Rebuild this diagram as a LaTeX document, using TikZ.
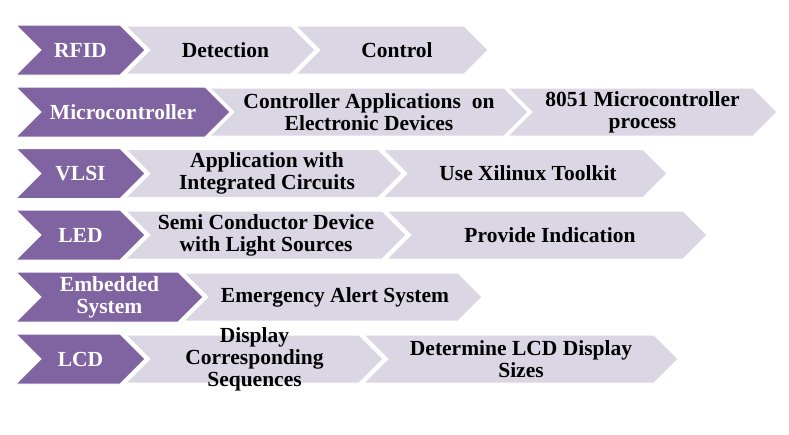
\documentclass[tikz,border=0pt]{standalone}
\usepackage{fontspec}
\setmainfont{Liberation Serif}[BoldFont={Liberation Serif Bold}]
\newfontfamily\tnr{Liberation Serif}[BoldFont={Liberation Serif Bold}]
\definecolor{purp}{RGB}{128,100,162}
\definecolor{lite}{RGB}{219,214,228}
\tikzset{
  purpchev/.style={fill=purp,draw=white,line width=1pt,line join=miter},
  litechev/.style={fill=lite,draw=white,line width=1pt,line join=miter},
  purptxt/.style={text=white,font=\tnr\fontsize{21.5}{22}\selectfont\bfseries,align=center,inner sep=0pt},
  litetxt/.style={text=black,font=\tnr\fontsize{21.5}{22}\selectfont\bfseries,align=center,inner sep=0pt},
}
% #1 name, #2 left x, #3 tip x, #4 mid y, #5 half height, #6 kind (purp/lite), #7 text shift, #8 text
\newcommand\mychev[8]{%
  \path[#6chev] (#2,#4-#5) -- (#3-#5,#4-#5) -- (#3,#4) -- (#3-#5,#4+#5) -- (#2,#4+#5) -- (#2+#5,#4) -- cycle;
  \node[#6txt] (#1) at ({(#2+#3)/2+#7},#4) {#8};
}
\begin{document}
\begin{tikzpicture}[x=1pt,y=-1pt]
\useasboundingbox (0,0) rectangle (789,434);
% Row 1
\mychev{rfid}{16}{145}{50}{25}{purp}{0}{RFID}
\mychev{detect}{126}{315}{50}{24}{lite}{5}{Detection}
\mychev{control}{296}{488}{50}{24}{lite}{5}{Control}
% Row 2
\mychev{micro}{16}{230}{112}{25}{purp}{0}{Microcontroller}
\mychev{ctrlapp}{210}{528}{112}{24}{lite}{0}{Controller Applications\hspace{0.25em} on\\Electronic Devices}
\mychev{proc}{508}{777}{112}{24}{lite}{0}{8051 Microcontroller\\process}
% Row 3
\mychev{vlsi}{16}{145}{173.5}{25}{purp}{0}{VLSI}
\mychev{appic}{126}{402}{173.5}{24}{lite}{3}{Application with\\Integrated Circuits}
\mychev{xil}{383}{667}{173.5}{24}{lite}{3}{Use Xilinux Toolkit}
% Row 4
\mychev{led}{16}{145}{235}{25}{purp}{0}{LED}
\mychev{semi}{126}{406}{235}{24}{lite}{0}{Semi Conductor Device\\with Light Sources}
\mychev{indic}{387}{707}{235}{24}{lite}{3}{Provide Indication}
% Row 5
\mychev{emb}{16}{203}{297}{25}{purp}{0}{Embedded\\System}
\mychev{alert}{184}{482}{297}{24}{lite}{2}{Emergency Alert System}
% Row 6
\mychev{lcd}{16}{145}{359}{25}{purp}{0}{LCD}
\mychev{disp}{126}{383}{359}{24}{lite}{0}{Display\\Corresponding\\Sequences}
\mychev{sizes}{364}{678}{359}{24}{lite}{0}{Determine LCD Display\\Sizes}
\end{tikzpicture}
\end{document}
